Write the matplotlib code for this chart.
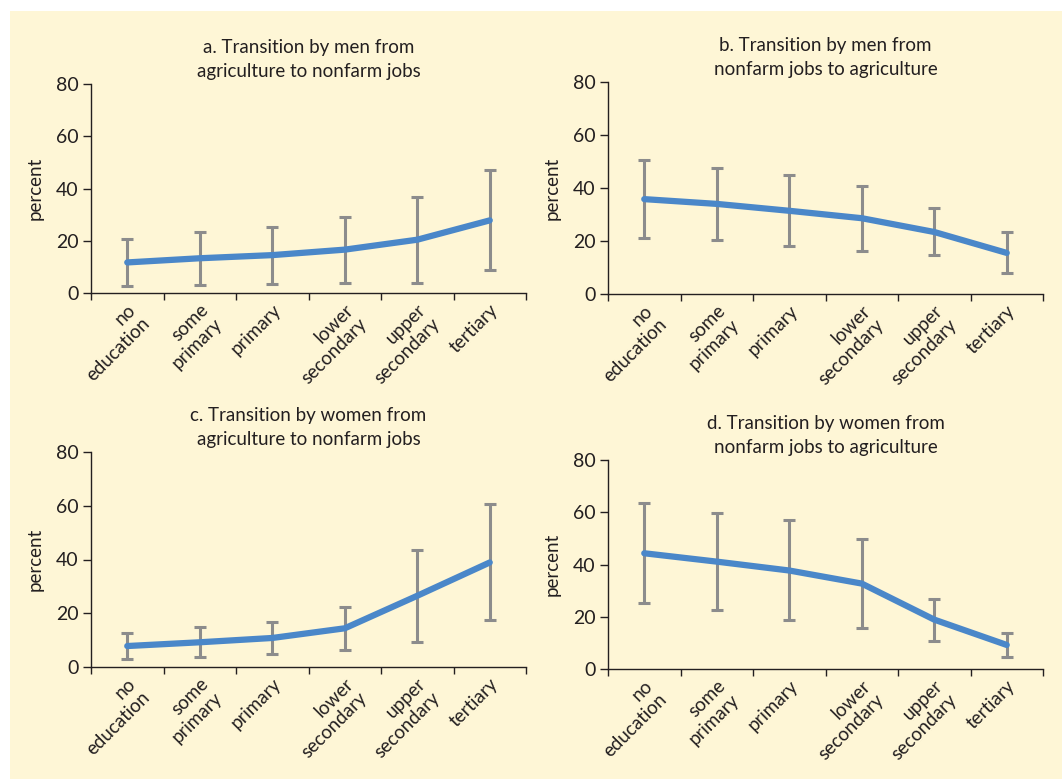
import matplotlib
matplotlib.use('Agg')
import matplotlib.pyplot as plt
import matplotlib.patches as mpatches
from matplotlib.transforms import ScaledTranslation
import numpy as np

plt.rcParams['font.family'] = ['Lato', 'DejaVu Sans']

categories = ['no\neducation', 'some\nprimary', 'primary', 'lower\nsecondary',
              'upper\nsecondary', 'tertiary']

titles = ['a. Transition by men from\nagriculture to nonfarm jobs',
          'b. Transition by men from\nnonfarm jobs to agriculture',
          'c. Transition by women from\nagriculture to nonfarm jobs',
          'd. Transition by women from\nnonfarm jobs to agriculture']

# central estimate, upper and lower bound of each bar (percent)
men_to_nonfarm = [11.7, 13.3, 14.5, 16.6, 20.4, 27.8]
men_to_nonfarm_hi = [20.7, 23.2, 25.4, 29.2, 36.6, 46.9]
men_to_nonfarm_lo = [2.8, 2.9, 3.4, 3.8, 3.7, 8.8]

men_to_agri = [35.8, 34.0, 31.4, 28.6, 23.4, 15.5]
men_to_agri_hi = [50.7, 47.5, 44.9, 40.6, 32.5, 23.5]
men_to_agri_lo = [21.0, 20.4, 18.0, 16.4, 14.7, 7.8]

women_to_nonfarm = [7.8, 9.2, 10.8, 14.4, 26.5, 38.9]
women_to_nonfarm_hi = [12.6, 14.9, 16.9, 22.3, 43.5, 60.8]
women_to_nonfarm_lo = [3.0, 3.6, 4.7, 6.3, 9.3, 17.4]

women_to_agri = [44.3, 41.1, 37.7, 32.7, 18.9, 9.2]
women_to_agri_hi = [63.5, 59.8, 56.9, 49.6, 26.8, 13.7]
women_to_agri_lo = [25.2, 22.6, 18.8, 15.7, 10.7, 4.7]

series = [(men_to_nonfarm, men_to_nonfarm_lo, men_to_nonfarm_hi),
          (men_to_agri, men_to_agri_lo, men_to_agri_hi),
          (women_to_nonfarm, women_to_nonfarm_lo, women_to_nonfarm_hi),
          (women_to_agri, women_to_agri_lo, women_to_agri_hi)]

W, H = 1062, 779
fig = plt.figure(figsize=(W / 100, H / 100), dpi=100)
fig.patch.set_facecolor('white')
bg = '#fef6d6'
fig.patches.append(mpatches.Rectangle((10 / W, 0), 1, (H - 11) / H,
                                      transform=fig.transFigure,
                                      facecolor=bg, edgecolor='none', zorder=-10))

# left, top(0-line y), height in pixels for each panel
boxes = [(91, 293, 209), (608, 294, 212), (91, 667, 215), (608, 669, 209)]

line_col = '#4a87c9'
err_col = '#8c8c8c'
txt_col = '#231f20'

for (left, zero_y, h), title, (vals, lo, hi) in zip(boxes, titles, series):
    ax = fig.add_axes([left / W, 1 - zero_y / H, 435 / W, h / H])
    ax.set_facecolor('none')
    x = np.arange(len(categories))
    vals = np.array(vals)
    yerr = [vals - np.array(lo), np.array(hi) - vals]
    ax.errorbar(x, vals, yerr=yerr, fmt='none', ecolor=err_col, elinewidth=2.2,
                capsize=4.5, capthick=2.2, zorder=2)
    ax.plot(x, vals, color=line_col, lw=4.5, solid_capstyle='round',
            solid_joinstyle='round', zorder=3)

    ax.set_xlim(-0.5, len(categories) - 0.5)
    ax.set_ylim(0, 80)
    ax.set_yticks([0, 20, 40, 60, 80])
    ax.set_xticks(x)
    ax.set_xticks(np.arange(-0.5, len(categories)), minor=True)
    ax.set_xticklabels(categories, rotation=45, ha='right', va='top',
                       rotation_mode='anchor', fontsize=13.5, color=txt_col,
                       linespacing=1.15)
    for lab in ax.get_xticklabels():
        lab.set_transform(lab.get_transform() +
                          ScaledTranslation(0.08, 0.0, fig.dpi_scale_trans))
    ax.tick_params(axis='x', which='major', length=0, pad=6)
    ax.tick_params(axis='x', which='minor', length=5, width=1, color=txt_col)
    ax.tick_params(axis='y', length=6, width=1, color=txt_col,
                   labelsize=14, labelcolor=txt_col, pad=3)
    for s in ['top', 'right']:
        ax.spines[s].set_visible(False)
    for s in ['left', 'bottom']:
        ax.spines[s].set_color(txt_col)
        ax.spines[s].set_linewidth(1)
    ax.set_ylabel('percent', fontsize=13.5, color=txt_col, labelpad=9)
    ax.set_title(title, fontsize=13.5, color=txt_col, pad=5, linespacing=1.5)

fig.savefig('out.png', dpi=100, facecolor=fig.get_facecolor())
